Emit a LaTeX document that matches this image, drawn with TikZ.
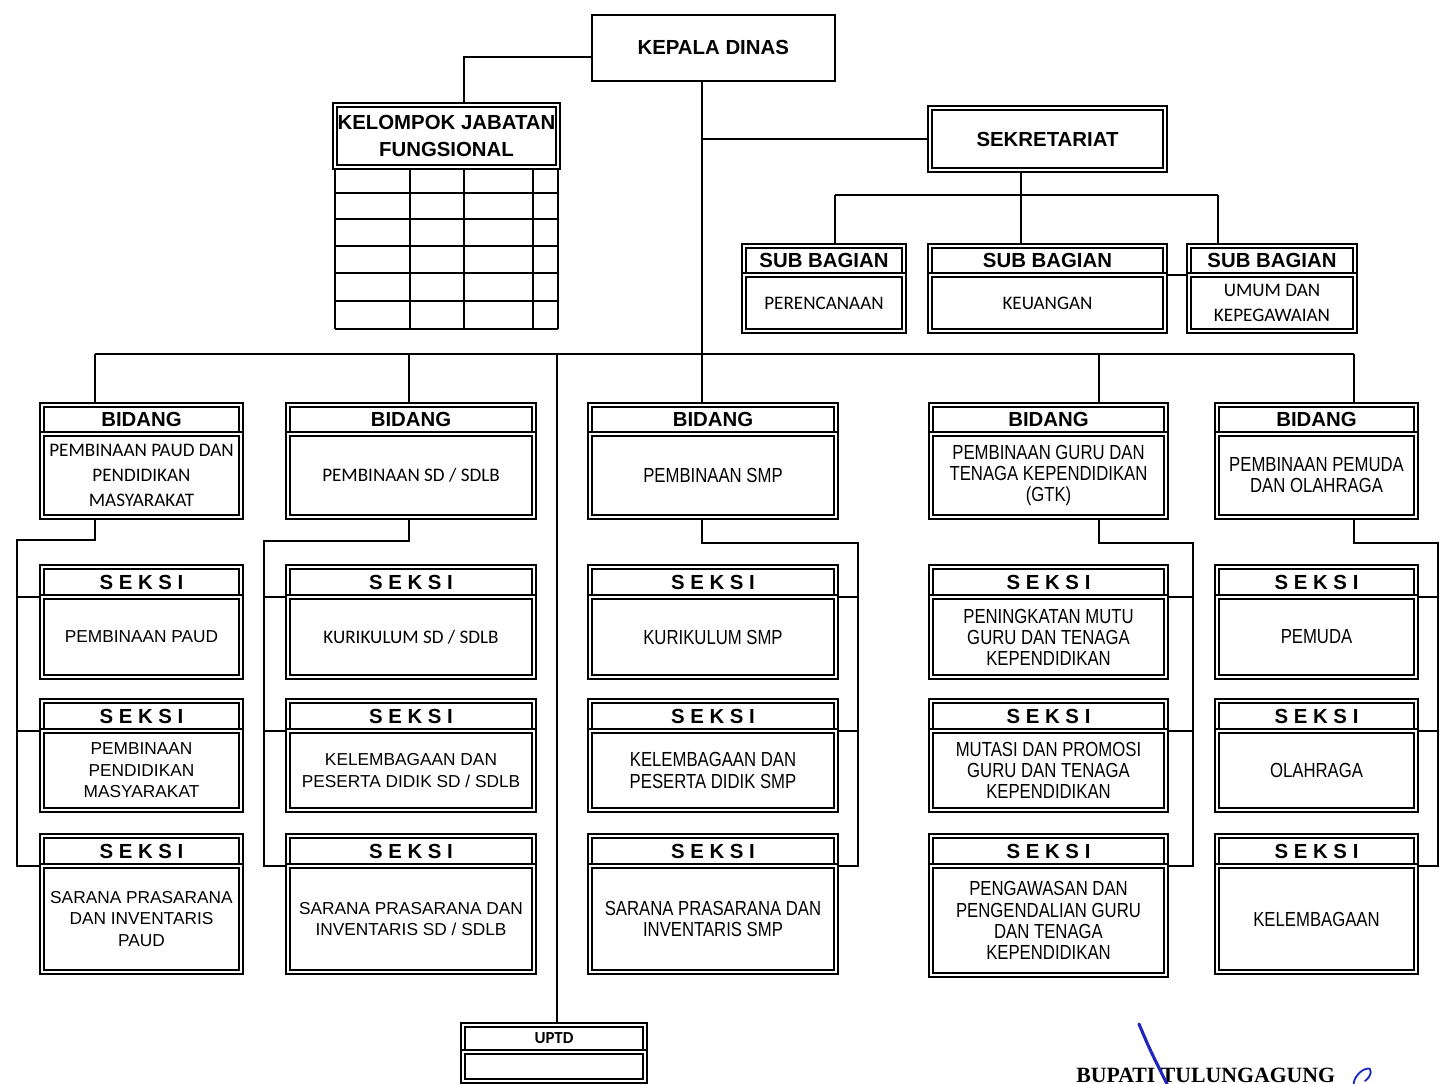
\documentclass[tikz,border=0pt]{standalone}
\usepackage{fontspec}
\setmainfont{Liberation Sans}
\newfontfamily\calfont{Carlito}
\newfontfamily\narrowfont[FakeStretch=0.82]{Liberation Sans}
\newfontfamily\sigfont{Liberation Serif}
\usetikzlibrary{positioning, backgrounds}
\definecolor{inkblue}{RGB}{30,38,190}
\tikzset{
  dbl/.style    = {draw, double, double distance=1.5pt, line width=1.2pt,
                   outer sep=0pt, inner sep=1pt, align=center},
  hdr/.style    = {dbl, font=\fontsize{14.5}{17}\selectfont\bfseries},
  bdy/.style    = {dbl, font=\fontsize{12.3}{15.3}\selectfont},
  bdycal/.style = {dbl, font=\calfont\fontsize{13.6}{17.8}\selectfont},
  bdynar/.style = {dbl, font=\narrowfont\fontsize{14.5}{15}\selectfont},
  wire/.style   = {line width=1.2pt},
  tbl/.style    = {line width=1.2pt},
  sig/.style    = {inkblue, line width=2.2pt, line cap=round},
  wpaud/.style  = {minimum width=49.75mm},
  wsd/.style    = {minimum width=61.5mm},
  wsmp/.style   = {minimum width=61.5mm},
  wgtk/.style   = {minimum width=58.75mm},
  wpora/.style  = {minimum width=49.75mm},
  hbid/.style   = {hdr, minimum height=7.25mm, anchor=north},
  hsek/.style   = {hdr, minimum height=7.5mm, anchor=north},
}

\begin{document}
\begin{tikzpicture}[x=0.25mm, y=-0.25mm]
    \useasboundingbox (0,0) rectangle (1442,1084);

    % top level
    \node[draw, line width=1.1pt, minimum width=60.75mm, minimum height=16.5mm,
          anchor=north west, font=\fontsize{14.5}{17}\selectfont\bfseries]
          (kadis) at (591,14) {KEPALA DINAS};
    \node[hdr, minimum width=55.75mm, minimum height=15.5mm, inner xsep=0pt,
          anchor=north west, font=\fontsize{14.5}{19}\selectfont\bfseries]
          (kjf) at (335,105) {KELOMPOK JABATAN\\FUNGSIONAL};
    \foreach \y in {193,219,246,273,301,329}
      \draw[tbl] (335,\y) -- (558,\y);
    \foreach \x in {335,410,464,533,558}
      \draw[tbl] (\x,168) -- (\x,329);
    \node[hdr, minimum width=58.75mm, minimum height=15.5mm, anchor=north west]
          (sek) at (930,108) {SEKRETARIAT};

    % sub bagian
    \node[hdr, minimum width=40mm, minimum height=7.25mm, anchor=north] (sb1h) at (824,246) {SUB BAGIAN};
    \node[bdycal, minimum width=40mm, minimum height=14mm, below=0pt of sb1h] (sb1) {PERENCANAAN};
    \node[hdr, minimum width=58.75mm, minimum height=7.25mm, anchor=north] (sb2h) at (1047.5,246) {SUB BAGIAN};
    \node[bdycal, minimum width=58.75mm, minimum height=14mm, below=0pt of sb2h] (sb2) {KEUANGAN};
    \node[hdr, minimum width=41.5mm, minimum height=7.25mm, anchor=north] (sb3h) at (1272,246) {SUB BAGIAN};
    \node[bdycal, minimum width=41.5mm, minimum height=14mm, below=0pt of sb3h] (sb3) {UMUM DAN\\KEPEGAWAIAN};

    % bidang
    \node[hbid, wpaud] (b1h) at (141.5,405) {BIDANG};
    \node[bdycal, wpaud, minimum height=20.75mm, below=0pt of b1h] (b1) {PEMBINAAN PAUD DAN\\PENDIDIKAN\\MASYARAKAT};
    \node[hbid, wsd] (b2h) at (411,405) {BIDANG};
    \node[bdycal, wsd, minimum height=20.75mm, below=0pt of b2h] (b2) {PEMBINAAN SD / SDLB};
    \node[hbid, wsmp] (b3h) at (713,405) {BIDANG};
    \node[bdynar, wsmp, minimum height=20.75mm, below=0pt of b3h] (b3) {PEMBINAAN SMP};
    \node[hbid, wgtk] (b4h) at (1048.5,405) {BIDANG};
    \node[bdynar, wgtk, minimum height=20.75mm, below=0pt of b4h] (b4) {PEMBINAAN GURU DAN\\TENAGA KEPENDIDIKAN\\(GTK)};
    \node[hbid, wpora] (b5h) at (1316.5,405) {BIDANG};
    \node[bdynar, wpora, minimum height=20.75mm, below=0pt of b5h] (b5) {PEMBINAAN PEMUDA\\DAN OLAHRAGA};

    % seksi, paud
    \node[hsek, wpaud] (s11h) at (141.5,567) {S E K S I};
    \node[bdy, wpaud, minimum height=20mm, below=0pt of s11h] (s11) {PEMBINAAN PAUD};
    \node[hsek, wpaud] (s12h) at (141.5,701) {S E K S I};
    \node[bdy, wpaud, minimum height=19.75mm, below=0pt of s12h] (s12) {PEMBINAAN\\PENDIDIKAN\\MASYARAKAT};
    \node[hsek, wpaud] (s13h) at (141.5,836) {S E K S I};
    \node[bdy, wpaud, minimum height=26.5mm, below=0pt of s13h] (s13) {SARANA PRASARANA\\DAN INVENTARIS\\PAUD};

    % seksi, sd
    \node[hsek, wsd] (s21h) at (411,567) {S E K S I};
    \node[bdycal, wsd, minimum height=20mm, below=0pt of s21h] (s21) {KURIKULUM SD / SDLB};
    \node[hsek, wsd] (s22h) at (411,701) {S E K S I};
    \node[bdy, wsd, minimum height=19.75mm, below=0pt of s22h] (s22) {KELEMBAGAAN DAN\\PESERTA DIDIK SD / SDLB};
    \node[hsek, wsd] (s23h) at (411,836) {S E K S I};
    \node[bdy, wsd, minimum height=26.5mm, below=0pt of s23h] (s23) {SARANA PRASARANA DAN\\INVENTARIS SD / SDLB};

    % seksi, smp
    \node[hsek, wsmp] (s31h) at (713,567) {S E K S I};
    \node[bdynar, wsmp, minimum height=20mm, below=0pt of s31h] (s31) {KURIKULUM SMP};
    \node[hsek, wsmp] (s32h) at (713,701) {S E K S I};
    \node[bdynar, wsmp, minimum height=19.75mm, below=0pt of s32h] (s32) {KELEMBAGAAN DAN\\PESERTA DIDIK SMP};
    \node[hsek, wsmp] (s33h) at (713,836) {S E K S I};
    \node[bdynar, wsmp, minimum height=26.5mm, below=0pt of s33h] (s33) {SARANA PRASARANA DAN\\INVENTARIS SMP};

    % seksi, gtk
    \node[hsek, wgtk] (s41h) at (1048.5,567) {S E K S I};
    \node[bdynar, wgtk, minimum height=20mm, below=0pt of s41h] (s41) {PENINGKATAN MUTU\\GURU DAN TENAGA\\KEPENDIDIKAN};
    \node[hsek, wgtk] (s42h) at (1048.5,701) {S E K S I};
    \node[bdynar, wgtk, minimum height=19.75mm, below=0pt of s42h] (s42) {MUTASI DAN PROMOSI\\GURU DAN TENAGA\\KEPENDIDIKAN};
    \node[hsek, wgtk] (s43h) at (1048.5,836) {S E K S I};
    \node[bdynar, wgtk, minimum height=27.25mm, below=0pt of s43h] (s43) {PENGAWASAN DAN\\PENGENDALIAN GURU\\DAN TENAGA\\KEPENDIDIKAN};

    % seksi, pemuda dan olahraga
    \node[hsek, wpora] (s51h) at (1316.5,567) {S E K S I};
    \node[bdynar, wpora, minimum height=20mm, below=0pt of s51h] (s51) {PEMUDA};
    \node[hsek, wpora] (s52h) at (1316.5,701) {S E K S I};
    \node[bdynar, wpora, minimum height=19.75mm, below=0pt of s52h] (s52) {OLAHRAGA};
    \node[hsek, wpora] (s53h) at (1316.5,836) {S E K S I};
    \node[bdynar, wpora, minimum height=26.5mm, below=0pt of s53h] (s53) {KELEMBAGAAN};

    % uptd
    \node[dbl, minimum width=45.5mm, minimum height=6.75mm, anchor=north,
          font=\calfont\fontsize{12}{14}\selectfont\bfseries] (uptdh) at (554,1025) {UPTD};
    \node[dbl, minimum width=45.5mm, minimum height=7.25mm, below=0pt of uptdh] (uptd) {};

    % lines
    \coordinate (trunk) at (702,354);
    \coordinate (kjx)   at (464,57);
    \coordinate (sekx)  at (1021,195);
    \coordinate (sa)    at (835,195);
    \coordinate (sc)    at (1218,195);
    \coordinate (j1)    at (95,354);
    \coordinate (j2)    at (409,354);
    \coordinate (ju)    at (557,354);
    \coordinate (j4)    at (1099,354);
    \coordinate (j5)    at (1354,354);
    \coordinate (k1)    at (17,540);
    \coordinate (k2)    at (264,541);
    \coordinate (k3)    at (858,543);
    \coordinate (k4)    at (1193,543);
    \coordinate (k5)    at (1438,543);
    \begin{scope}[on background layer]
      \draw[wire] (kadis.south -| trunk) -- (b3h.north -| trunk);
      \draw[wire] (kadis.west |- kjx) -- (kjx) -- (kjx |- kjf.north);
      \draw[wire] (sek.west) -- (sek.west -| trunk);
      \draw[wire] (sek.south -| sekx) -- (sekx |- sb2h.north);
      \draw[wire] (sa) -- (sc);
      \draw[wire] (sa) -- (sa |- sb1h.north);
      \draw[wire] (sc) -- (sc |- sb3h.north);
      \draw[wire] (sb2h.south east) -- (sb3h.south west);

      \draw[wire] (j1) -- (j5);
      \draw[wire] (j1) -- (j1 |- b1h.north);
      \draw[wire] (j2) -- (j2 |- b2h.north);
      \draw[wire] (j4) -- (j4 |- b4h.north);
      \draw[wire] (j5) -- (j5 |- b5h.north);
      \draw[wire] (ju) -- (ju |- uptdh.north);

      \draw[wire] (b1.south -| j1) |- (k1) -- (k1 |- s13h.south) -- (s13h.south west);
      \draw[wire] (k1 |- s11h.south) -- (s11h.south west);
      \draw[wire] (k1 |- s12h.south) -- (s12h.south west);
      \draw[wire] (b2.south -| j2) |- (k2) -- (k2 |- s23h.south) -- (s23h.south west);
      \draw[wire] (k2 |- s21h.south) -- (s21h.south west);
      \draw[wire] (k2 |- s22h.south) -- (s22h.south west);
      \draw[wire] (b3.south -| trunk) |- (k3) -- (k3 |- s33h.south) -- (s33h.south east);
      \draw[wire] (k3 |- s31h.south) -- (s31h.south east);
      \draw[wire] (k3 |- s32h.south) -- (s32h.south east);
      \draw[wire] (b4.south -| j4) |- (k4) -- (k4 |- s43h.south) -- (s43h.south east);
      \draw[wire] (k4 |- s41h.south) -- (s41h.south east);
      \draw[wire] (k4 |- s42h.south) -- (s42h.south east);
      \draw[wire] (b5.south -| j5) |- (k5) -- (k5 |- s53h.south) -- (s53h.south east);
      \draw[wire] (k5 |- s51h.south) -- (s51h.south east);
      \draw[wire] (k5 |- s52h.south) -- (s52h.south east);
    \end{scope}

    % signature
    \node[anchor=base west, inner sep=0pt, font=\sigfont\bfseries\fontsize{15.5}{18}\selectfont]
          (bupati) at (1076,1082) {BUPATI TULUNGAGUNG};
    \draw[sig] (1139,1024) .. controls (1150,1050) .. (1168,1086);
    \draw[sig, line width=1.3pt] (1366,1069) .. controls (1360,1070) and (1352,1080) .. (1354,1086);
    \draw[sig, line width=1.3pt] (1366,1069) .. controls (1373,1066) and (1372,1076) .. (1365,1081);
  \end{tikzpicture}
\end{document}
